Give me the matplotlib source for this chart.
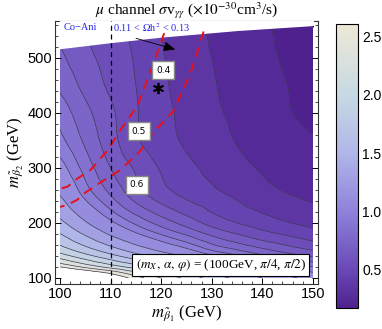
import numpy as np
import matplotlib
matplotlib.use("Agg")
import matplotlib.pyplot as plt
import matplotlib.tri as mtri
from matplotlib.colors import LinearSegmentedColormap, Normalize
from matplotlib.cm import ScalarMappable
from matplotlib.ticker import MultipleLocator

plt.rcParams["mathtext.fontset"] = "stix"
plt.rcParams["font.family"] = ["Liberation Serif", "DejaVu Serif"]

# grid (sigma v in 1e-30 cm^3/s)
m1 = [100, 105, 110, 115, 120, 125, 130, 135, 140, 145, 150]
m2 = [100, 110, 120, 135, 150, 175, 200, 250, 300, 350, 400, 450, 500, 570]
sigv = [
    [3.6, 3.2, 2.85, 2.5, 2.2, 1.95, 1.72, 1.55, 1.4, 1.25, 1.12],
    [3.05, 2.78, 2.52, 2.22, 1.96, 1.74, 1.56, 1.4, 1.26, 1.13, 1.0],
    [2.6, 2.35, 2.12, 1.9, 1.68, 1.5, 1.35, 1.22, 1.1, 0.99, 0.9],
    [2.2, 1.97, 1.76, 1.57, 1.4, 1.25, 1.1, 0.98, 0.88, 0.8, 0.73],
    [1.92, 1.7, 1.5, 1.32, 1.17, 1.04, 0.9, 0.81, 0.73, 0.66, 0.6],
    [1.65, 1.42, 1.22, 1.06, 0.93, 0.82, 0.71, 0.63, 0.56, 0.51, 0.46],
    [1.45, 1.22, 1.03, 0.88, 0.76, 0.66, 0.565, 0.50, 0.45, 0.405, 0.37],
    [1.2, 0.97, 0.80, 0.655, 0.55, 0.48, 0.43, 0.385, 0.34, 0.305, 0.28],
    [1.05, 0.86, 0.70, 0.585, 0.49, 0.425, 0.375, 0.33, 0.29, 0.255, 0.23],
    [0.93, 0.78, 0.64, 0.515, 0.44, 0.385, 0.34, 0.295, 0.255, 0.225, 0.205],
    [0.86, 0.73, 0.62, 0.51, 0.43, 0.375, 0.32, 0.28, 0.24, 0.205, 0.185],
    [0.78, 0.67, 0.58, 0.50, 0.42, 0.36, 0.31, 0.265, 0.23, 0.20, 0.18],
    [0.72, 0.63, 0.56, 0.49, 0.41, 0.35, 0.30, 0.26, 0.22, 0.19, 0.17],
    [0.66, 0.585, 0.525, 0.47, 0.395, 0.335, 0.285, 0.245, 0.21, 0.18, 0.16],
]

# contour levels: fine below 1, coarser above
levels = [0.1, 0.2, 0.3, 0.4, 0.5, 0.6, 0.7, 0.8, 0.9, 1.0,
          1.2, 1.4, 1.6, 1.8, 2.0, 2.2, 2.4, 2.6]

# upper edge of the allowed region
top_m1 = [100, 110, 120, 135, 150]
top_m2 = [518, 529, 539, 551, 560]

# relic density band (red dashed)
relic1_m1 = [120.6, 118.4, 115.2, 112.0, 109.5, 106.0, 103.0, 101.5, 100.0]
relic1_m2 = [545, 487, 411, 370, 333, 296, 278, 266, 262]
relic2_m1 = [128.4, 125.7, 122.3, 118.0, 115.8, 111.9, 107.9, 105.0, 103.4, 101.5, 100.0]
relic2_m2 = [548, 469, 402, 360, 330, 296, 273, 255, 242, 233, 229]

label_vals = ["0.4", "0.5", "0.6"]
label_m1 = [120.4, 115.6, 115.2]
label_m2 = [478, 367, 269]

cmap = LinearSegmentedColormap.from_list("lav", [
    (0.0, (0.31, 0.13, 0.56)),
    (0.13, (0.41, 0.28, 0.71)),
    (0.34, (0.56, 0.51, 0.86)),
    (0.54, (0.69, 0.71, 0.91)),
    (0.75, (0.78, 0.85, 0.89)),
    (0.96, (0.91, 0.90, 0.85)),
    (1.0, (0.93, 0.91, 0.84)),
])
norm = Normalize(0.17, 2.61)

fig = plt.figure(figsize=(3.82, 3.29), dpi=100)
ax = fig.add_axes([0.144, 0.137, 0.688, 0.799])

X, Y = np.meshgrid(m1, m2)
Z = np.array(sigv)
ny, nx = Z.shape
idx = np.arange(nx * ny).reshape(ny, nx)
tris = []
for j in range(ny - 1):
    for i in range(nx - 1):
        tris.append([idx[j, i], idx[j, i + 1], idx[j + 1, i + 1]])
        tris.append([idx[j, i], idx[j + 1, i + 1], idx[j + 1, i]])
tri = mtri.Triangulation(X.ravel(), Y.ravel(), np.array(tris))
interp = mtri.CubicTriInterpolator(tri, Z.ravel(), kind="geom")
tri_f, z_f = mtri.UniformTriRefiner(tri).refine_field(Z.ravel(), triinterpolator=interp, subdiv=4)

ax.tricontourf(tri_f, z_f, levels=levels, cmap=cmap, norm=norm, zorder=1)
ax.tricontour(tri_f, z_f, levels=levels, colors="#3b3550", linewidths=0.5, zorder=2)

ax.fill_between(top_m1, top_m2, 600, color="white", zorder=3)

ax.axvline(110, color="black", ls=(0, (4, 3)), lw=0.9, zorder=5)
ax.plot(relic1_m1, relic1_m2, color="#e8101a", ls=(0, (5, 3.5)), lw=1.4, zorder=4)
ax.plot(relic2_m1, relic2_m2, color="#e8101a", ls=(0, (5, 3.5)), lw=1.4, zorder=4)

for t, x, y in zip(label_vals, label_m1, label_m2):
    ax.text(x, y, t, fontsize=6.5, family="DejaVu Sans", ha="center", va="center", zorder=6,
            bbox=dict(boxstyle="square,pad=0.45", fc="white", ec="#888888", lw=1.0))

ax.plot([119.4], [445], marker=(6, 2, 0), color="black", ms=8, mew=1.3, zorder=6)

ax.text(100.8, 555, "Co\u2212Ani", color="#2828e0", fontsize=7.5, va="center", zorder=6)
ax.text(110.4, 555, r"0.11 < $\Omega$h$^2$ < 0.13", color="#2828e0", fontsize=7.5, va="center", zorder=6)
ax.annotate("", xy=(123.3, 514), xytext=(114.5, 537), zorder=6,
            arrowprops=dict(arrowstyle="-|>,head_length=0.7,head_width=0.3", color="black", lw=0.6))

ax.text(131.8, 123.5, r"$(m_X,\,\alpha,\,\varphi)$ = (100GeV, $\pi/4$, $\pi/2$)", fontsize=9.5,
        ha="center", va="center", zorder=6,
        bbox=dict(boxstyle="square,pad=0.25", fc="white", ec="black", lw=0.8))

ax.set_xlim(99.0, 151.0)
ax.set_ylim(89, 567)
ax.xaxis.set_major_locator(MultipleLocator(10))
ax.xaxis.set_minor_locator(MultipleLocator(2))
ax.yaxis.set_major_locator(MultipleLocator(100))
ax.yaxis.set_minor_locator(MultipleLocator(20))
ax.tick_params(which="both", direction="in", top=True, right=True, labelsize=10.5, pad=2)
ax.tick_params(which="major", length=4, width=0.7)
ax.tick_params(which="minor", length=2, width=0.5)
for lab in ax.get_xticklabels() + ax.get_yticklabels():
    lab.set_family("Liberation Sans")
for s in ax.spines.values():
    s.set_linewidth(0.8)
    s.set_color("#333333")

ax.set_xlabel(r"$m_{\tilde{\beta}_1}$ (GeV)", fontsize=12, labelpad=2)
ax.set_ylabel(r"$m_{\tilde{\beta}_2}$ (GeV)", fontsize=12, labelpad=2)
ax.set_title(r"$\mu$ channel $\sigma$v$_{\gamma\gamma}$ ($\times10^{-30}$cm$^3$/s)", fontsize=11, pad=2)

cax = fig.add_axes([0.880, 0.064, 0.057, 0.863])
cb = fig.colorbar(ScalarMappable(norm=norm, cmap=cmap), cax=cax, ticks=[0.5, 1.0, 1.5, 2.0, 2.5])
cb.ax.tick_params(length=0, labelsize=10, pad=3)
cb.ax.set_yticklabels(["0.5", "1.0", "1.5", "2.0", "2.5"], family="Liberation Sans")
cb.outline.set_linewidth(0.8)

fig.savefig("out.png", dpi=100)
